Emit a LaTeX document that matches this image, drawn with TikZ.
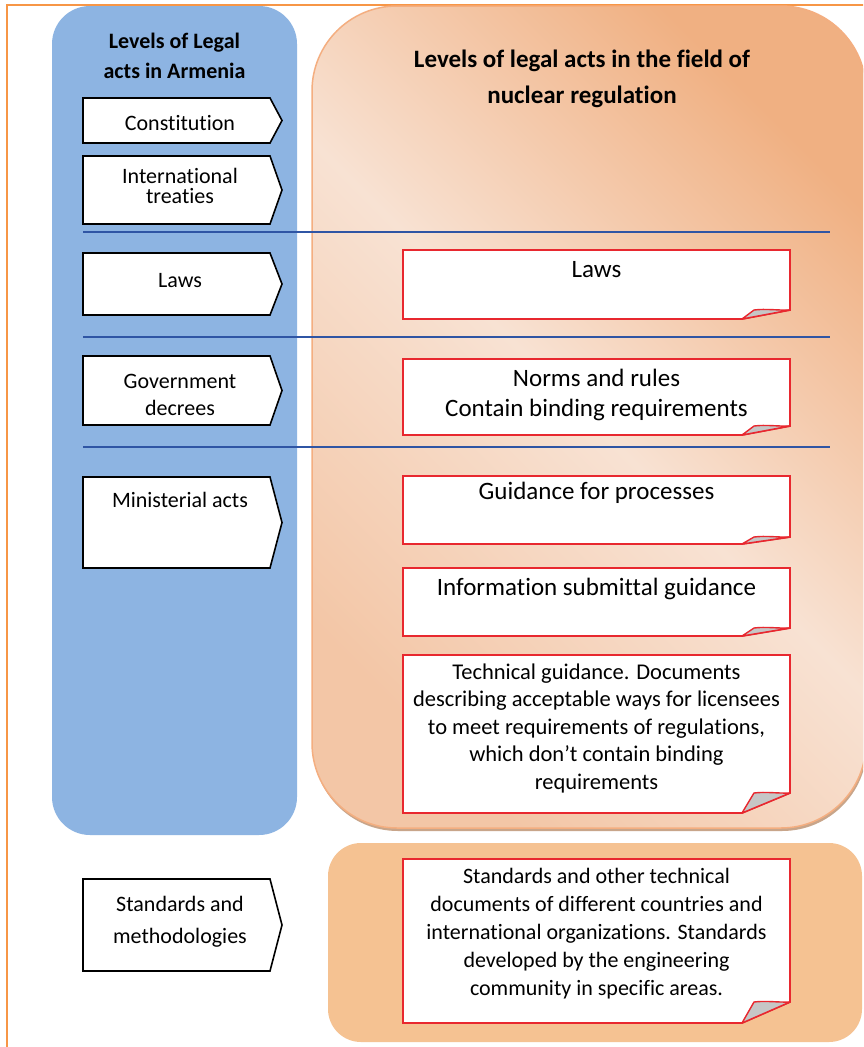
\documentclass[tikz,border=0pt]{standalone}
\usepackage{fontspec}
\setmainfont{Carlito}[Ligatures={NoCommon,NoRequired,NoContextual}]
\definecolor{frameor}{HTML}{F79646}
\definecolor{bluefill}{HTML}{8DB4E2}
\definecolor{sepblue}{HTML}{2F55A4}
\definecolor{notered}{HTML}{E8282F}
\definecolor{foldgrey}{HTML}{C6C6C6}
\definecolor{orlight}{HTML}{F8E2D3}
\definecolor{ormid}{HTML}{F3C6A6}
\definecolor{ordark}{HTML}{F0B082}
\definecolor{oredge}{HTML}{F4AE80}
\definecolor{orshadow}{HTML}{C8A58A}
\definecolor{orsolid}{HTML}{F5C292}
\newcommand\mlines[1]{\vtop{\lineskiplimit=-100pt\relax\halign{\hfil##\hfil\cr#1\crcr}}}
\newcommand\arrowbox[2]{\draw[legalbox] (83,#1) -- (270,#1) -- (282,{(#1+#2)/2}) -- (270,#2) -- (83,#2) -- cycle;}
\newcommand\notepaper[3]{%
  \draw[notebox] (403,#1) -- (790,#1) -- (790,{#2-#3}) -- (742,#2) -- (403,#2) -- cycle;
  \draw[foldbox] (742,#2) -- (754,{#2-#3}) .. controls (766,{#2-#3-1.5}) and (778,{#2-#3+0.5}) .. (790,{#2-#3}) -- cycle;}
\begin{document}
\begin{tikzpicture}[x=1pt,y=-1pt,
  legalbox/.style={draw=black, line width=1.6pt, fill=white, line join=miter},
  notebox/.style={draw=notered, line width=1.8pt, fill=white},
  foldbox/.style={draw=notered, line width=1.4pt, fill=foldgrey, line join=round},
  sepline/.style={draw=sepblue, line width=1.5pt},
  ltext/.style={anchor=base, inner sep=0pt, font=\fontsize{22}{20}\selectfont},
  rtext/.style={anchor=base, inner sep=0pt, font=\fontsize{25}{30}\selectfont},
  head/.style={anchor=base, inner sep=0pt, font=\bfseries\fontsize{22}{30}\selectfont},
]
\useasboundingbox (0,0) rectangle (863,1047);
\clip (0,0) rectangle (863,1047);
\fill[white] (0,0) rectangle (863,1047);
% frame
\draw[frameor, line width=2pt] (7,1100) -- (7,4.5) -- (900,4.5);
% blue column
\fill[bluefill, rounded corners=38] (52,6) rectangle (297,835);
% big orange panel
\fill[orshadow, rounded corners=85] (313,9) rectangle (867,831);
\shade[rounded corners=85, top color=ormid, bottom color=ordark, middle color=orlight, shading angle=135] (312,6) rectangle (866,828);
\draw[oredge, line width=1.5pt, rounded corners=85] (312,6) rectangle (866,828);
% bottom orange panel
\fill[orsolid, rounded corners=33] (328,843) rectangle (862,1042);
% separators
\coordinate (s1a) at (83,232); \coordinate (s1b) at (830,232);
\coordinate (s2a) at (83,337); \coordinate (s2b) at (830,337);
\coordinate (s3a) at (83,447); \coordinate (s3b) at (830,447);
\draw[sepline] (s1a) -- (s1b);
\draw[sepline] (s2a) -- (s2b);
\draw[sepline] (s3a) -- (s3b);
% left arrow boxes
\arrowbox{98}{143}
\arrowbox{156}{224}
\arrowbox{253}{315}
\arrowbox{356}{425}
\arrowbox{477}{568}
\arrowbox{879}{971}
% right note boxes
\notepaper{250}{319}{9}
\notepaper{359}{435}{9}
\notepaper{476}{544}{7}
\notepaper{568}{636}{8}
\notepaper{655}{813}{20}
\notepaper{859}{1023}{21}
% headers
\node[head] (hleft) at (174.5,48.3) {\mlines{Levels of Legal\cr acts in Armenia}};
\node[head, font=\bfseries\fontsize{25}{35.5}\selectfont] (hright) at (582,67.7) {\mlines{Levels of legal acts in the field of\cr nuclear regulation}};
% left texts
\node[ltext] (constitution) at (180,130) {Constitution};
\node[ltext] (treaties) at (180,183.5) {\mlines{International\cr treaties}};
\node[ltext] (lawsL) at (180,287) {Laws};
\node[ltext, font=\fontsize{22}{27}\selectfont] (decrees) at (180,388) {\mlines{Government\cr decrees}};
\node[ltext] (ministerial) at (180,507) {Ministerial acts};
\node[ltext, font=\fontsize{22}{32}\selectfont] (standardsL) at (180,911) {\mlines{Standards and\cr methodologies}};
% right texts
\node[rtext] (lawsR) at (596.5,277.3) {Laws};
\node[rtext] (norms) at (596.5,386.7) {\mlines{Norms and rules\cr Contain binding requirements}};
\node[rtext] (processes) at (596.5,499) {Guidance for processes};
\node[rtext] (submittal) at (596.5,595) {Information submittal guidance};
\node[rtext, font=\fontsize{22.5}{27.5}\selectfont] (technical) at (596.5,679) {\mlines{Technical guidance. Documents\cr describing acceptable ways for licensees\cr to meet requirements of regulations,\cr which don’t contain binding\cr requirements}};
\node[rtext, font=\fontsize{22}{28}\selectfont] (standardsR) at (596.5,883) {\mlines{Standards and other technical\cr documents of different countries and\cr international organizations. Standards\cr developed by the engineering\cr community in specific areas.}};
\end{tikzpicture}
\end{document}
